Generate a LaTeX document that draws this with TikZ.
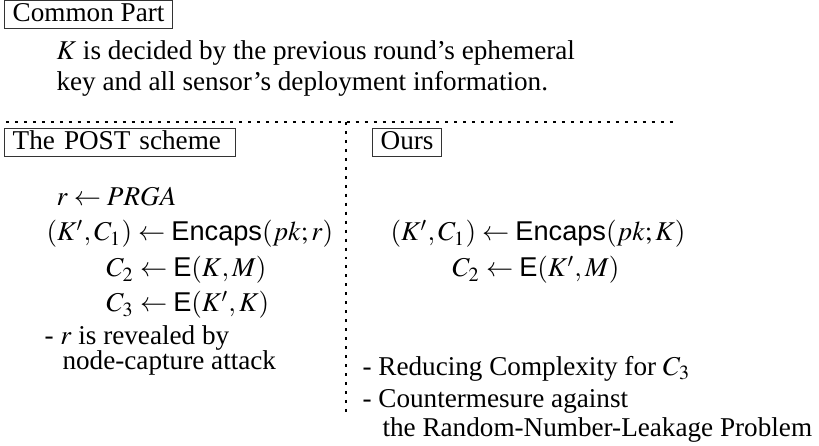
\documentclass[tikz,border=0pt]{standalone}
\usepackage{mathptmx}
\usepackage{fontspec}
\setmainfont{Liberation Serif}
\setsansfont{Liberation Sans}
\begin{document}
\begin{tikzpicture}[x=0.368pt, y=-0.368pt,
  font=\fontsize{10}{12}\selectfont,
  tag/.style={draw=black!80, line width=0.4pt, inner xsep=3pt, inner ysep=1pt,
    text height=6.8pt, text depth=1.4pt, anchor=base west},
  txt/.style={inner sep=0pt, anchor=base west},
  sep/.style={line width=0.9pt, dash pattern=on 1.1pt off 2.2pt}]
\useasboundingbox (0,0) rectangle (819,446);

% common part
\node[tag] (common) at (4,22) {Common Part};
\node[txt] (k1) at (56,60) {$K$ is decided by the previous round's ephemeral};
\node[txt] (k2) at (56,91) {key and all sensor's deployment information.};

% separators
\coordinate (hl) at (6,122);
\coordinate (hr) at (673,122);
\coordinate (vt) at (346,122);
\coordinate (vb) at (346,413);
\draw[sep] (hl) -- (hr);
\draw[sep] (vt) -- (vb);

% the POST scheme
\node[tag, text width=79pt, align=left] (post) at (4,150) {The POST scheme};
\node[txt] (p1) at (56,206) {$r \leftarrow PRGA$};
\node[txt] (p2) at (46,241) {$(K',C_1) \leftarrow \textsf{Encaps}(pk;r)$};
\node[txt] (p3) at (106,277) {$C_2 \leftarrow \textsf{E}(K,M)$};
\node[txt] (p4) at (106,312) {$C_3 \leftarrow \textsf{E}(K',K)$};
\node[txt] (p5) at (44,345) {- $r$ is revealed by};
\node[txt] (p6) at (62,369) {node-capture attack};

% ours
\node[tag] (ours) at (372,150) {Ours};
\node[txt] (o1) at (390,241) {$(K',C_1) \leftarrow \textsf{Encaps}(pk;K)$};
\node[txt] (o2) at (452,277) {$C_2 \leftarrow \textsf{E}(K',M)$};
\node[txt] (o3) at (362,375) {- Reducing Complexity for $C_3$};
\node[txt] (o4) at (362,407) {- Countermesure against};
\node[txt] (o5) at (382,436) {the Random-Number-Leakage Problem};
\end{tikzpicture}
\end{document}
